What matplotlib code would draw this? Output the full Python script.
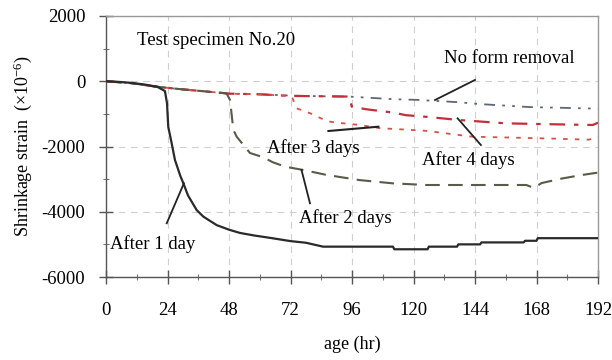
import matplotlib
matplotlib.use("Agg")
import matplotlib.pyplot as plt
from matplotlib.ticker import MultipleLocator

plt.rcParams['font.family'] = ['Liberation Serif', 'DejaVu Serif']
plt.rcParams['axes.unicode_minus'] = False
plt.rcParams['mathtext.fontset'] = 'custom'
plt.rcParams['mathtext.rm'] = 'Liberation Serif'
plt.rcParams['mathtext.it'] = 'Liberation Serif:italic'

# ---- data (age in hr, shrinkage strain x10^-6) ----
day1_hr = [0, 5, 10, 15, 20, 23, 23.8, 24.3, 25.6, 26.9, 29, 30.2, 32, 35.4, 38, 43.2, 48, 52.3, 58, 64,
           72, 78, 84.7, 112, 112.5, 125.5, 126, 137, 137.5, 146, 146.5, 163, 163.5, 168, 168.5, 192]
day1_val = [0, -20, -50, -100, -170, -300, -670, -1400, -1890, -2410, -2900, -3130, -3500, -3950, -4150, -4410,
            -4550, -4650, -4730, -4800, -4900, -4950, -5070, -5070, -5150, -5150, -5070, -5070, -5000, -5000,
            -4940, -4940, -4890, -4890, -4810, -4810]

day2_hr = [0, 10, 20, 30, 40, 47, 48.4, 49.7, 51, 53.6, 56.2, 61.4, 65, 70, 77, 86, 99, 112, 125, 140, 155,
           164, 167, 170, 178, 186, 192]
day2_val = [0, -60, -170, -250, -320, -370, -570, -1490, -1700, -1950, -2200, -2330, -2480, -2620, -2720, -2870,
            -3030, -3130, -3180, -3180, -3180, -3180, -3270, -3120, -2980, -2870, -2800]

day3_hr = [0, 10, 20, 30, 40, 48, 60, 72, 72.5, 74.4, 79.6, 86.5, 92.6, 99, 107, 112, 125, 143, 160, 175,
           188.5, 192]
day3_val = [0, -60, -170, -250, -320, -380, -400, -450, -470, -830, -980, -1230, -1290, -1340, -1440, -1460,
            -1520, -1700, -1730, -1760, -1790, -1700]

day4_hr = [0, 10, 20, 30, 40, 48, 60, 72, 84, 95, 95.9, 101.7, 112, 117, 125, 138, 156, 175, 190, 192]
day4_val = [0, -60, -170, -250, -320, -380, -400, -450, -460, -470, -780, -860, -960, -1040, -1090, -1190,
            -1290, -1320, -1340, -1270]

noform_hr = [0, 10, 20, 30, 40, 48, 60, 72, 84, 95, 112, 121, 128, 137, 146, 165, 192]
noform_val = [0, -60, -170, -250, -320, -380, -400, -440, -460, -470, -550, -570, -600, -640, -700, -790, -840]

x_ticks = [0, 24, 48, 72, 96, 120, 144, 168, 192]
y_ticks = [-6000, -4000, -2000, 0, 2000]

# ---- figure ----
fig = plt.figure(figsize=(6.12, 3.6), dpi=100)
ax = fig.add_axes([106/612, 1 - 277/360, (598 - 106)/612, (277 - 16)/360])

ax.plot(noform_hr, noform_val, color='#5f6676', lw=1.3, dashes=[6, 4, 1.5, 4, 1.5, 4], zorder=3)
ax.plot(day4_hr, day4_val, color='#c0303a', lw=1.6, dashes=[7, 4, 2, 4], zorder=4)
ax.plot(day3_hr, day3_val, color='#d8504a', lw=1.3, dashes=[2.5, 4], zorder=4)
ax.plot(day2_hr, day2_val, color='#555c48', lw=1.5, dashes=[7, 4], zorder=4)
ax.plot(day1_hr, day1_val, color='#2a2a2a', lw=1.6, zorder=5)

ax.set_xlim(0, 192)
ax.set_ylim(-6000, 2000)
ax.set_xticks(x_ticks)
ax.set_yticks(y_ticks)
ax.xaxis.set_minor_locator(MultipleLocator(12))
ax.yaxis.set_minor_locator(MultipleLocator(1000))
ax.tick_params(which='major', direction='inout', length=10, width=1, color='#555555',
               labelsize=13.5)
ax.tick_params(which='minor', direction='inout', length=5, width=0.8, color='#777777')
ax.tick_params(axis='x', which='major', pad=13)
ax.tick_params(axis='y', which='major', pad=10)
ax.grid(True, which='major', color='#cfcfcf', lw=0.8, dashes=[6, 5])
ax.set_axisbelow(True)

for side in ['left', 'bottom']:
    ax.spines[side].set_color('#555555')
    ax.spines[side].set_linewidth(1.0)
for side in ['top', 'right']:
    ax.spines[side].set_color('#999999')
    ax.spines[side].set_linewidth(1.0)

ax.set_xlabel('age (hr)', fontsize=13, labelpad=12)
ax.set_ylabel('Shrinkage strain  (×10$^{-6}$)', fontsize=13, labelpad=5)

# ---- annotations ----
fs = 13.5
ax.text(12, 1260, 'Test specimen No.20', fontsize=fs, va='center', ha='left')
ax.text(132, 710, 'No form removal', fontsize=fs, va='center', ha='left')
ax.plot([144, 128.4], [40, -575], color='#222222', lw=1.3, zorder=6)
ax.text(63, -2050, 'After 3 days', fontsize=fs, va='center', ha='left')
ax.plot([86.8, 106.3], [-1525, -1393], color='#222222', lw=1.5, zorder=6)
ax.text(123.5, -2410, 'After 4 days', fontsize=fs, va='center', ha='left')
ax.plot([146.3, 137.2], [-1954, -1136], color='#222222', lw=1.3, zorder=6)
ax.text(75.5, -4200, 'After 2 days', fontsize=fs, va='center', ha='left')
ax.plot([79.6, 76.3], [-3741, -2720], color='#222222', lw=1.3, zorder=6)
ax.text(1.5, -4990, 'After 1 day', fontsize=fs, va='center', ha='left')
ax.plot([23.7, 30.4], [-4354, -3128], color='#222222', lw=1.3, zorder=6)

fig.savefig('out.png', dpi=100)
